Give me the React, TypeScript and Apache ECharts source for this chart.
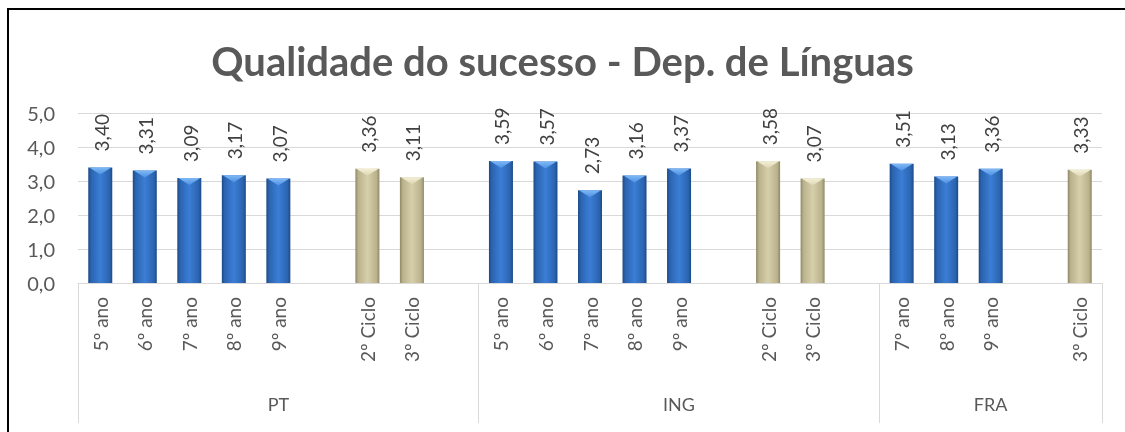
import React, { useEffect, useRef } from "react";
import * as echarts from "echarts";

const titleText = "Qualidade do sucesso - Dep. de Línguas";
const categories = [
  "5º ano", "6º ano", "7º ano", "8º ano", "9º ano", "", "2º Ciclo", "3º Ciclo", "",
  "5º ano", "6º ano", "7º ano", "8º ano", "9º ano", "", "2º Ciclo", "3º Ciclo", "",
  "7º ano", "8º ano", "9º ano", "", "3º Ciclo",
];
const groupLabels = [
  "", "", "", "", "PT", "", "", "", "",
  "", "", "", "", "ING", "", "", "", "",
  "", "", "FRA", "", "",
];
const groupStarts = [0, 9, 18];
const anoValues = [
  3.40, 3.31, 3.09, 3.17, 3.07, null, null, null, null,
  3.59, 3.57, 2.73, 3.16, 3.37, null, null, null, null,
  3.51, 3.13, 3.36, null, null,
];
const cicloValues = [
  null, null, null, null, null, null, 3.36, 3.11, null,
  null, null, null, null, null, null, 3.58, 3.07, null,
  null, null, null, null, 3.33,
];
const yTicks = [0, 1, 2, 3, 4, 5];

const FONT = "Lato, 'Open Sans', sans-serif";

function toData(vals: (number | null)[]) {
  const out: [number, number][] = [];
  vals.forEach((v, i) => {
    if (v !== null) out.push([i, v]);
  });
  return out;
}

function makeRender(stops: string[], tri: string[]) {
  return (params: any, api: any) => {
    const idx = api.value(0);
    const v = api.value(1);
    const top = api.coord([idx, v]);
    const base = api.coord([idx, 0]);
    const w = 24;
    const x0 = top[0] - w / 2;
    const h = base[1] - top[1];
    const grad = new echarts.graphic.LinearGradient(0, 0, 1, 0, [
      { offset: 0, color: stops[0] },
      { offset: 0.12, color: stops[1] },
      { offset: 0.5, color: stops[2] },
      { offset: 0.88, color: stops[1] },
      { offset: 1, color: stops[0] },
    ]);
    const triGrad = new echarts.graphic.LinearGradient(0, 0, 0, 1, [
      { offset: 0, color: tri[0] },
      { offset: 1, color: tri[1] },
    ]);
    return {
      type: "group",
      children: [
        { type: "rect", shape: { x: x0, y: top[1], width: w, height: h }, style: { fill: grad } },
        {
          type: "polygon",
          shape: { points: [[x0 + 1, top[1]], [x0 + w - 1, top[1]], [top[0], top[1] + 7]] },
          style: { fill: triGrad },
        },
        {
          type: "text",
          x: top[0] + 1,
          y: top[1] - 16,
          rotation: Math.PI / 2,
          style: {
            text: v.toFixed(2).replace(".", ","),
            align: "left",
            verticalAlign: "middle",
            fill: "#404040",
            font: `19px ${FONT}`,
          },
        },
      ],
    };
  };
}

export default function App() {
  const ref = useRef<HTMLDivElement>(null);
  useEffect(() => {
    if (!ref.current) return;
    const chart = echarts.init(ref.current, undefined, { renderer: "svg" });
    chart.setOption({
      animation: false,
      title: {
        text: titleText,
        left: "center",
        top: 36,
        textStyle: { fontFamily: FONT, fontSize: 40, fontWeight: "bold", color: "#595959" },
      },
      grid: { left: 78, right: 23, top: 113, bottom: 149, containLabel: false },
      xAxis: [
        {
          type: "category",
          data: categories,
          axisLine: { show: true, lineStyle: { color: "#D9D9D9", width: 1 } },
          axisTick: {
            show: true,
            interval: (i: number) => groupStarts.includes(i),
            length: 140,
            lineStyle: { color: "#D9D9D9", width: 1 },
          },
          axisLabel: {
            interval: 0,
            rotate: 90,
            margin: 14,
            fontSize: 19,
            fontFamily: FONT,
            color: "#595959",
          },
        },
        {
          type: "category",
          data: groupLabels,
          position: "bottom",
          axisLine: { show: false },
          axisTick: { show: false },
          axisLabel: {
            interval: 0,
            margin: 112,
            fontSize: 18,
            fontFamily: FONT,
            color: "#595959",
          },
        },
      ],
      yAxis: {
        type: "value",
        min: yTicks[0],
        max: yTicks[yTicks.length - 1],
        interval: 1,
        axisLine: { show: false },
        axisTick: { show: false },
        splitLine: { lineStyle: { color: "#D9D9D9", width: 1 } },
        axisLabel: {
          margin: 23,
          fontSize: 20,
          fontFamily: FONT,
          color: "#595959",
          formatter: (v: number) => v.toFixed(1).replace(".", ","),
        },
      },
      series: [
        {
          type: "custom",
          name: "Ano",
          xAxisIndex: 0,
          data: toData(anoValues),
          renderItem: makeRender(["#1d4a86", "#2b64b0", "#3b7ed6"], ["#7fb8f6", "#4e92e2"]),
        },
        {
          type: "custom",
          name: "Ciclo",
          xAxisIndex: 0,
          data: toData(cicloValues),
          renderItem: makeRender(["#8d8864", "#b9b28c", "#d6cfaa"], ["#f4f0d6", "#dcd5b2"]),
        },
      ],
    });
    return () => chart.dispose();
  }, []);
  return (
    <>
      <div
        style={{
          position: "fixed",
          left: 7,
          top: 8,
          width: 1200,
          height: 500,
          border: "2px solid #000",
          boxSizing: "border-box",
        }}
      />
      <div
        ref={ref}
        style={{ position: "fixed", left: 0, top: 0, width: 1125, height: 432 }}
      />
    </>
  );
}
